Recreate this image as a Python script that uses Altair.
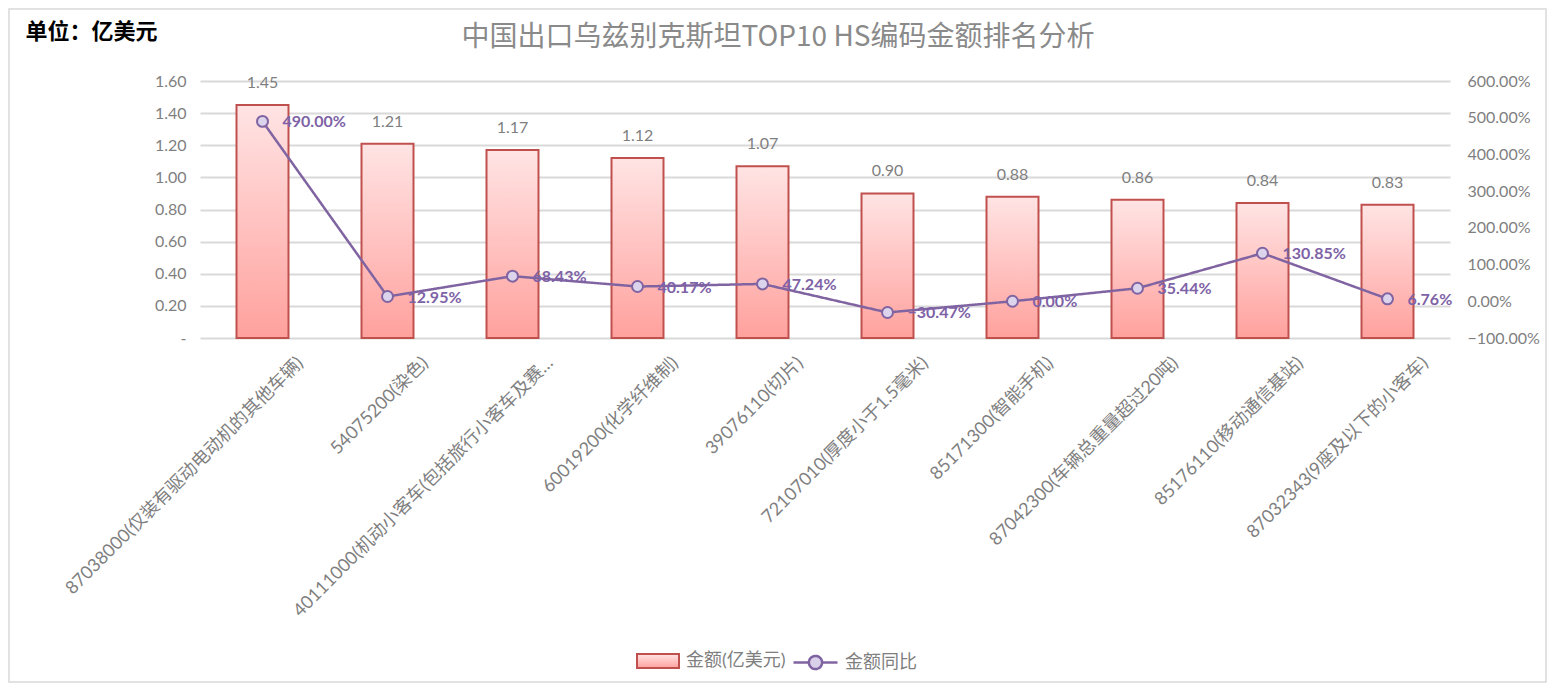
import altair as alt
import pandas as pd

categories = [
    "87038000(仅装有驱动电动机的其他车辆)",
    "54075200(染色)",
    "40111000(机动小客车(包括旅行小客车及赛…",
    "60019200(化学纤维制)",
    "39076110(切片)",
    "72107010(厚度小于1.5毫米)",
    "85171300(智能手机)",
    "87042300(车辆总重量超过20吨)",
    "85176110(移动通信基站)",
    "87032343(9座及以下的小客车)",
]
amounts = [1.45, 1.21, 1.17, 1.12, 1.07, 0.90, 0.88, 0.86, 0.84, 0.83]
yoy_pct = [490.00, 12.95, 68.43, 40.17, 47.24, -30.47, 0.00, 35.44, 130.85, 6.76]
left_ticks = [0, 0.2, 0.4, 0.6, 0.8, 1.0, 1.2, 1.4, 1.6]
right_ticks = [-100, 0, 100, 200, 300, 400, 500, 600]
series_bar = "金额(亿美元)"
series_line = "金额同比"

df = pd.DataFrame({
    "cat": categories,
    "amt": amounts,
    "yoy": yoy_pct,
    "s1": [series_bar] * len(categories),
    "s2": [series_line] * len(categories),
})

FONT = "Lato, 'Noto Sans CJK SC', sans-serif"
GRAY = "#7f7f7f"
PURPLE = "#8064A2"
BAR_STROKE = "#C0504D"

W, H = 1250, 257
PAD = {"left": 192, "top": 73, "right": 97, "bottom": 345}

bar_grad = {
    "gradient": "linear", "x1": 0, "y1": 0, "x2": 0, "y2": 1,
    "stops": [{"offset": 0, "color": "#FFE4E4"}, {"offset": 1, "color": "#FFA19D"}],
}

x_axis = alt.Axis(labelAngle=-45, labelAlign="right", labelBaseline="middle",
                  labelPadding=22, labelOffset=38, labelFontSize=18, labelColor=GRAY,
                  labelFont=FONT, domain=False, ticks=False, labelLimit=500, grid=False,
                  labelOverlap=False, title=None)
x_scale = alt.Scale(paddingInner=0.584, paddingOuter=0.292)


def xenc():
    return alt.X("cat:N", sort=None, title=None, scale=x_scale, axis=x_axis)


left_axis = alt.Axis(values=left_ticks, tickCount=9,
                     labelExpr="datum.value == 0 ? '-' : format(datum.value, '.2f')",
                     labelFontSize=16, labelColor=GRAY, labelFont=FONT, labelPadding=14,
                     labelOverlap=False,
                     grid=True, gridColor="#D9D9D9", gridWidth=2, domain=False, ticks=False,
                     title="单位：亿美元", titleAngle=0, titleX=-175, titleY=-50,
                     titleAlign="left", titleBaseline="middle", titleFontSize=22,
                     titleFontWeight="bold", titleColor="#000000",
                     titleFont="'Noto Sans CJK SC', sans-serif")
left_scale = alt.Scale(domain=[0, 1.6], nice=False)


def yleft():
    return alt.Y("amt:Q", scale=left_scale, axis=left_axis)


right_axis = alt.Axis(orient="right", values=right_ticks, tickCount=8,
                      labelExpr="format(datum.value, '.2f') + '%'",
                      labelFontSize=16, labelColor=GRAY, labelFont=FONT, labelPadding=17,
                      labelOverlap=False,
                      grid=False, domain=False, ticks=False, title=None)
right_scale = alt.Scale(domain=[-100, 600], nice=False)


def yright():
    return alt.Y("yoy:Q", scale=right_scale, axis=right_axis)


border = alt.Chart(pd.DataFrame({"k": [0]})).mark_rect(
    fill="transparent", stroke="#D9D9D9", strokeWidth=1.5, clip=False
).encode(
    x=alt.value(-PAD["left"] + 1), x2=alt.value(W + PAD["right"] - 1),
    y=alt.value(-PAD["top"] + 1), y2=alt.value(H + PAD["bottom"] - 1),
)

bars = alt.Chart(df).mark_bar(fill=bar_grad, strokeWidth=2).encode(
    x=xenc(),
    y=yleft(),
    stroke=alt.Stroke("s1:N", scale=alt.Scale(range=[BAR_STROKE]),
                      legend=alt.Legend(title=None, orient="none", legendX=436, legendY=558,
                                        symbolType="M-1,-0.33L1,-0.33L1,0.33L-1,0.33Z",
                                        symbolSize=1764, symbolStrokeWidth=2,
                                        symbolFillColor="#FFB9B6",
                                        labelFontSize=18, labelColor=GRAY, labelFont=FONT,
                                        labelOffset=6)),
)

bar_text = alt.Chart(df).mark_text(dy=-22, fontSize=16, color=GRAY, font=FONT).encode(
    x=xenc(),
    y=yleft(),
    text=alt.Text("amt:Q", format=".2f"),
)

left_layer = alt.layer(bars, bar_text)

line = alt.Chart(df).mark_line(color=PURPLE, strokeWidth=2.5).encode(
    x=xenc(),
    y=yright(),
    strokeDash=alt.StrokeDash("s2:N", scale=alt.Scale(range=[[1, 0]]),
                              legend=alt.Legend(title=None, orient="none", legendX=592, legendY=558,
                                                symbolType="M-1,0L-0.3,0M0.3,0L1,0M0.3,0A0.3,0.3 0 1,1 -0.3,0A0.3,0.3 0 1,1 0.3,0Z",
                                                symbolSize=1936, symbolStrokeColor=PURPLE,
                                                symbolStrokeWidth=2.5, symbolFillColor="#D9D1EA",
                                                labelFontSize=18, labelColor=GRAY, labelFont=FONT,
                                                labelOffset=6)),
)

points = alt.Chart(df).mark_point(shape="circle", filled=True, size=120, fill="#DCD4EC",
                                  stroke=PURPLE, strokeWidth=2, opacity=1).encode(
    x=xenc(),
    y=yright(),
)

pct_text = alt.Chart(df).transform_calculate(
    lbl="format(datum.yoy, '.2f') + '%'"
).mark_text(align="left", baseline="middle", dx=20, dy=1, fontSize=16,
            fontWeight="bold", color="#7E62A6", font=FONT).encode(
    x=xenc(),
    y=yright(),
    text="lbl:N",
)

right_layer = alt.layer(line, points, pct_text)

chart = alt.layer(border, left_layer, right_layer).resolve_scale(
    y="independent", stroke="independent", strokeDash="independent"
).properties(
    width=W, height=H,
    padding=PAD,
    autosize=alt.AutoSizeParams(type="none"),
    title=alt.TitleParams("中国出口乌兹别克斯坦TOP10 HS编码金额排名分析", fontSize=28,
                          color="#8a8a8a", font="'Noto Sans CJK SC', sans-serif",
                          fontWeight="normal", anchor="middle", dx=-47, offset=-44),
).configure(background="white").configure_view(stroke=None)

chart.save("out.html", embed_options={"renderer": "svg", "actions": False})
